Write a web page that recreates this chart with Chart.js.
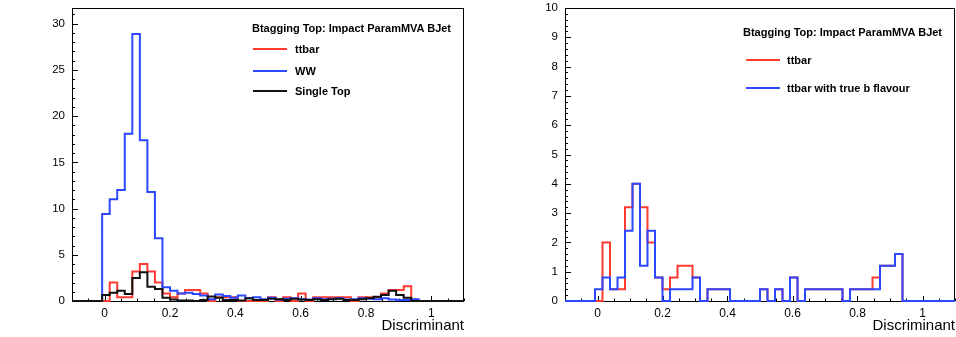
<!DOCTYPE html>
<html>
<head>
<meta charset="utf-8">
<script src="https://cdn.jsdelivr.net/npm/chart.js@4.4.1/dist/chart.umd.min.js"></script>
<style>
  body { margin: 0; background: #fff; font-family: "Liberation Sans", Arial, sans-serif; }
  #wrap { position: relative; width: 956px; height: 337px; }
  canvas { position: absolute; top: 0; }
  .leg { position: absolute; font-weight: bold; font-size: 11px; line-height: 14px; white-space: nowrap; color: #000; }
  .legline { position: absolute; height: 0; width: 34px; border-top: 2px solid; }
</style>
</head>
<body>
<div id="wrap">
  <canvas id="left" width="478" height="337" style="left:0"></canvas>
  <canvas id="right" width="478" height="337" style="left:478px"></canvas>

  <div class="leg" style="left:252px;top:21px">Btagging Top: Impact ParamMVA BJet</div>
  <div class="legline" style="left:253px;top:48px;border-color:#ff3b2f"></div>
  <div class="leg" style="left:295px;top:42px">ttbar</div>
  <div class="legline" style="left:253px;top:70px;border-color:#2b48ff"></div>
  <div class="leg" style="left:295px;top:64px">WW</div>
  <div class="legline" style="left:253px;top:90px;border-color:#111"></div>
  <div class="leg" style="left:295px;top:84px">Single Top</div>

  <div class="leg" style="left:743px;top:25px">Btagging Top: Impact ParamMVA BJet</div>
  <div class="legline" style="left:746px;top:59px;border-color:#ff3b2f"></div>
  <div class="leg" style="left:787px;top:53px">ttbar</div>
  <div class="legline" style="left:746px;top:87px;border-color:#2b48ff"></div>
  <div class="leg" style="left:787px;top:81px">ttbar with true b flavour</div>
</div>
<script>
// histogram binning (52 bins from -0.1 to 1.1)
const xLow = -0.1;
const xHigh = 1.1;
const nBins = 52;
const xTickValues = [0, 0.2, 0.4, 0.6, 0.8, 1];
const yTicksLeft = [0, 5, 10, 15, 20, 25, 30];
const yTicksRight = [0, 1, 2, 3, 4, 5, 6, 7, 8, 9, 10];

// bin contents
const ttbar = [0, 0, 0, 0, 0, 2.0, 0.4, 0.4, 3.2, 4.0, 3.2, 2.0, 0.8, 0.4, 0.8, 1.2, 1.2, 0.8, 0,
  0.4, 0.4, 0.4, 0, 0, 0, 0, 0.4, 0, 0.4, 0, 0.8, 0, 0.4, 0.4, 0.4, 0.4, 0.4, 0, 0.4, 0.4, 0.4,
  0.8, 1.2, 1.2, 1.6, 0, 0, 0, 0, 0, 0, 0];
const ww = [0, 0, 0, 0, 9.4, 11.0, 12.0, 18.1, 28.9, 17.4, 11.8, 6.8, 1.5, 1.1, 0.8, 0.9, 0.75, 0.6, 0.2,
  0.7, 0.55, 0.35, 0.6, 0.3, 0.4, 0.2, 0.35, 0.15, 0.25, 0.3, 0.2, 0.15, 0.3, 0.2, 0.25, 0.3, 0.15, 0.2,
  0.3, 0.25, 0.2, 0.3, 0.15, 0.1, 0.1, 0.2, 0, 0, 0, 0, 0, 0];
const singleTop = [0, 0, 0, 0, 0.65, 0.9, 1.1, 0.75, 2.5, 3.1, 1.55, 1.3, 0.35, 0.15, 0.05, 0.05, 0, 0.1, 0.5,
  0.35, 0.1, 0.1, 0.05, 0.3, 0.1, 0.1, 0.25, 0.2, 0.1, 0.25, 0.15, 0.1, 0.2, 0.1, 0.2, 0.25, 0.1, 0.1,
  0.2, 0.3, 0.45, 0.65, 1.1, 0.65, 0.35, 0, 0, 0, 0, 0, 0, 0];
const ttbarTrueB = [0, 0, 0, 0, 0.4, 0.8, 0.4, 0.8, 2.4, 4.0, 1.2, 2.4, 0.8, 0, 0.4, 0.4, 0.4, 0.8, 0,
  0.4, 0.4, 0.4, 0, 0, 0, 0, 0.4, 0, 0.4, 0, 0.8, 0, 0.4, 0.4, 0.4, 0.4, 0.4, 0, 0.4, 0.4, 0.4,
  0.4, 1.2, 1.2, 1.6, 0, 0, 0, 0, 0, 0, 0];

const RED = '#ff3b2f';
const BLUE = '#2b48ff';
const BLACK = '#111';
const FONT = '"Liberation Sans", Arial, sans-serif';

const binWidth = (xHigh - xLow) / nBins;

function histPoints(values) {
  const pts = values.map((v, i) => ({ x: xLow + i * binWidth, y: v }));
  pts.push({ x: xHigh, y: 0 });
  return pts;
}

function histSet(values, color, order) {
  return {
    data: histPoints(values),
    borderColor: color,
    borderWidth: 2,
    stepped: true,
    pointRadius: 0,
    fill: false,
    clip: 4,
    order: order
  };
}

// ROOT style frame with ticks pointing inward
const rootFrame = {
  id: 'rootFrame',
  beforeDatasetsDraw(chart, args, o) {
    const { ctx, chartArea: a, scales } = chart;
    ctx.save();
    ctx.strokeStyle = '#000';
    ctx.lineWidth = 1;
    ctx.strokeRect(a.left + 0.5, a.top + 0.5, a.right - a.left - 1, a.bottom - a.top);
    ctx.beginPath();
    for (let i = 0; ; i++) {
      const v = xLow + i * o.xMinor;
      if (v > xHigh + 1e-9) break;
      const major = Math.abs(v / o.xMajor - Math.round(v / o.xMajor)) < 1e-6;
      const px = Math.round(scales.x.getPixelForValue(v)) + 0.5;
      ctx.moveTo(px, a.bottom);
      ctx.lineTo(px, a.bottom - (major ? 5 : 2.5));
    }
    for (let i = 0; ; i++) {
      const v = i * o.yMinor;
      if (v > o.yMax + 1e-9) break;
      const major = Math.abs(v / o.yMajor - Math.round(v / o.yMajor)) < 1e-6;
      const py = Math.round(scales.y.getPixelForValue(v)) + 0.5;
      ctx.moveTo(a.left, py);
      ctx.lineTo(a.left + (major ? 6 : 3), py);
    }
    ctx.stroke();
    ctx.restore();
  }
};

function makeChart(id, sets, yMax, yTicks, yMinor, yMajor, yWidth, padRight) {
  return new Chart(document.getElementById(id), {
    type: 'line',
    data: { datasets: sets },
    options: {
      responsive: false,
      animation: false,
      devicePixelRatio: 1,
      layout: { padding: { top: 8, right: padRight, bottom: 0, left: 0 } },
      plugins: {
        legend: { display: false },
        tooltip: { enabled: false },
        rootFrame: { xMinor: 0.05, xMajor: 0.2, yMinor: yMinor, yMajor: yMajor, yMax: yMax }
      },
      scales: {
        x: {
          type: 'linear',
          min: xLow,
          max: xHigh,
          grid: { display: false, drawTicks: false },
          border: { display: false },
          ticks: { padding: 5, color: '#000', autoSkip: false, maxRotation: 0,
                   font: { size: 12, family: FONT }, callback: v => String(v) },
          afterBuildTicks: s => { s.ticks = xTickValues.map(v => ({ value: v })); },
          afterFit: s => { s.height = 36; s.paddingLeft = 0; s.paddingRight = 0; },
          title: { display: true, text: 'Discriminant', align: 'end', color: '#000',
                   font: { size: 15, family: FONT }, padding: { top: 0, bottom: 2 } }
        },
        y: {
          min: 0,
          max: yMax,
          grid: { display: false, drawTicks: false },
          border: { display: false },
          ticks: { padding: 7, color: '#000', autoSkip: false,
                   font: { size: 11.5, family: FONT }, callback: v => String(v) },
          afterBuildTicks: s => { s.ticks = yTicks.map(v => ({ value: v })); },
          afterFit: s => { s.width = yWidth; s.paddingTop = 0; s.paddingBottom = 0; }
        }
      }
    },
    plugins: [rootFrame]
  });
}

makeChart('left', [
  histSet(ttbar, RED, 3),
  histSet(ww, BLUE, 2),
  histSet(singleTop, BLACK, 1)
], 31.7, yTicksLeft, 1, 5, 72, 14);

makeChart('right', [
  histSet(ttbar, RED, 2),
  histSet(ttbarTrueB, BLUE, 1)
], 10, yTicksRight, 0.2, 1, 87, 1);
</script>
</body>
</html>
